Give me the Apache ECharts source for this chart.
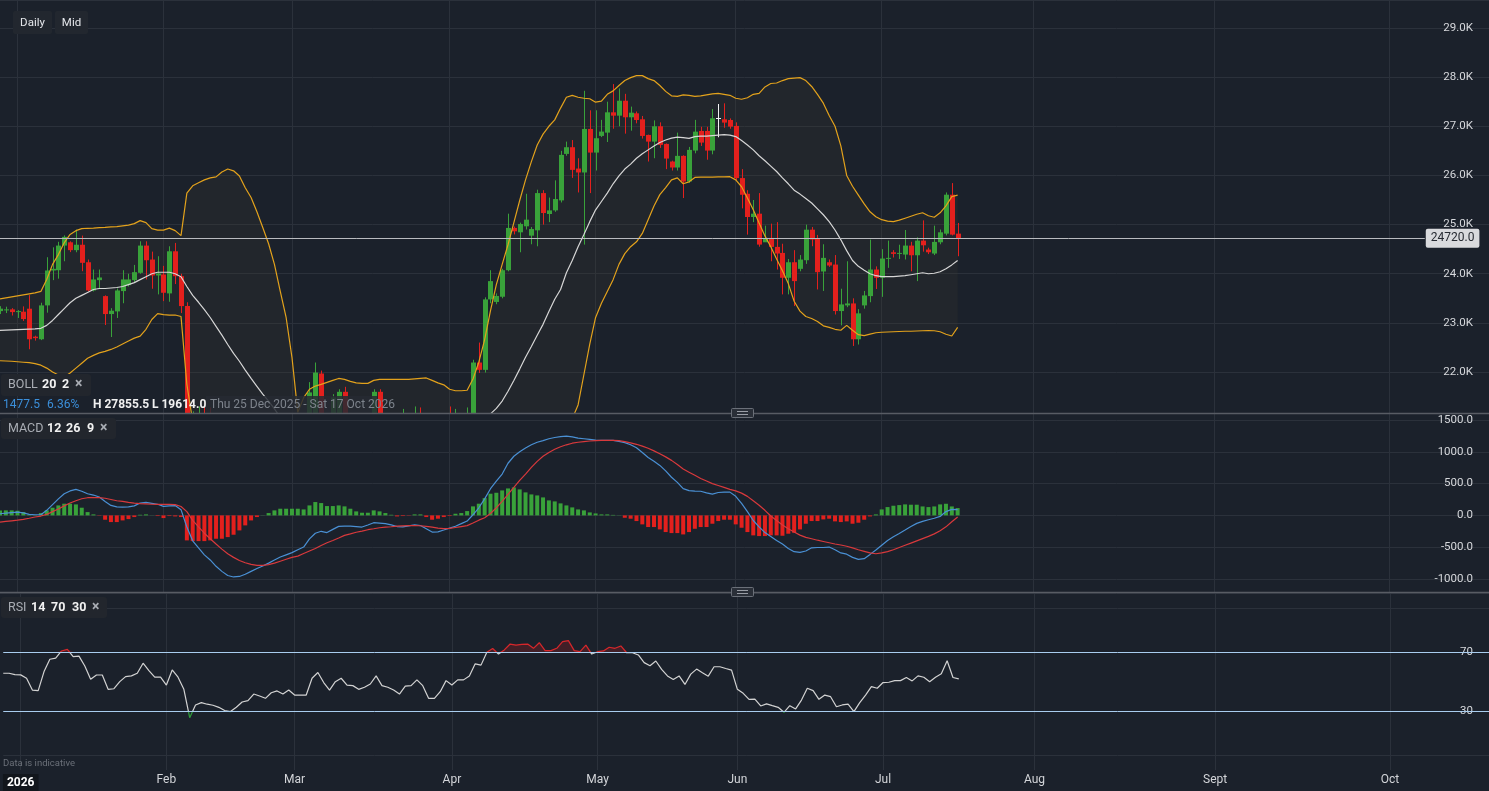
<!DOCTYPE html>
<html>
<head>
<meta charset="utf-8">
<title>Daily chart</title>
<script src="https://cdn.jsdelivr.net/npm/echarts@6.0.0/dist/echarts.min.js"></script>
<style>
  html, body { margin: 0; padding: 0; background: #1b212b; overflow: hidden; }
  #chart { width: 1489px; height: 791px; }
</style>
</head>
<body>
<div id="chart"></div>
<script>
// values, one entry per trading day (index 0 = first visible candle)
const candles = [ // [open, close, low, high]
  [23240,23290,23180,23340],[23255,23275,23200,23330],[23275,23220,23150,23300],[23225,23240,23100,23260],[23228,23078,23040,23336],
  [23289,22667,22464,23565],[22720,22690,22640,22740],[22667,23356,22650,23410],[23356,24066,23208,24336],[24066,24100,23870,24538],
  [24072,24573,23900,24650],[24573,24750,24254,24780],[24640,24480,24440,24660],[24480,24590,24437,24897],[24590,24222,24052,24776],
  [24234,23660,23640,24289],[23660,23884,23640,24086],[23870,23924,23690,24086],[23545,23180,22957,23560],[23180,23248,22713,23300],
  [23234,23660,23100,23700],[23647,23884,23400,24072],[23768,23884,23740,24000],[23870,24032,23820,24180],[24019,24573,24000,24660],
  [24573,24275,23884,24660],[24289,23965,23695,24450],[23965,24005,23580,24356],[23985,23613,23443,24160],[23600,24457,23430,24559],
  [24457,23950,23790,24627],[23950,23342,23200,24000],[23342,20600,20450,23420],[20600,20900,19614,21200],[20900,21000,20600,21300],
  [21000,20950,20700,21320],[20950,20900,20650,21280],[20900,20800,20600,21100],[20800,20600,20450,20950],[20600,20560,20350,20800],
  [20560,20650,20400,20800],[20650,20800,20550,20950],[20800,20850,20650,21000],[20850,21020,20750,21100],[21020,20980,20850,21120],
  [20980,20930,20800,21100],[20930,21050,20850,21130],[21050,21100,20950,21150],[21100,21030,20900,21140],[21030,21120,20950,21150],
  [21120,21020,20900,21150],[21020,21010,20880,21100],[21010,21030,20900,21120],[21030,21586,20980,21795],[21100,21990,21050,22194],
  [21970,21000,20950,22030],[21000,20800,20700,21100],[20850,21484,20800,21550],[21050,21598,21000,21650],[21598,21000,20950,21700],
  [21000,20950,20850,21100],[20950,20850,20750,21050],[20850,20900,20780,21000],[20900,20980,20850,21100],[21000,21598,20950,21650],
  [21598,21050,21000,21650],[21050,21000,20900,21120],[21000,20920,20850,21080],[20920,20820,20750,21000],[20820,21050,20800,21250],
  [21050,21060,20950,21150],[21060,21150,21000,21300],[21150,21050,20980,21280],[21050,20650,20600,21100],[20650,20640,20550,20750],
  [20640,20800,20600,20900],[20800,21050,20750,21120],[21050,20980,20900,21300],[20980,21100,20950,21250],[21100,21110,21000,21150],
  [21110,21150,21050,21280],[21150,22194,21100,22250],[22194,22045,21980,22600],[22045,23478,21990,23520],[23478,23850,23400,24072],
  [23426,23548,23380,23600],[23532,24072,23500,24100],[24072,24932,24050,25222],[24932,24863,24800,24960],[24843,25013,24437,25040],
  [24965,25100,24900,25627],[24775,24910,24600,24950],[24883,25641,24559,25710],[25641,25235,25000,25700],[25215,25289,25050,25550],
  [25289,25520,25260,25900],[25492,26418,25450,26500],[26438,26574,26400,26688],[26574,26113,25950,26720],[26140,26060,25654,26350],
  [26060,26946,24593,27722],[26946,26465,25641,27325],[26465,26757,26100,27325],[26804,26892,26780,27130],[26871,27284,26680,27500],
  [27284,27216,26950,27858],[27216,27520,27000,27771],[27520,27183,26850,27660],[27183,27277,26910,27400],[27264,27128,27060,27300],
  [27142,26804,26750,27210],[26824,26688,26283,26830],[26688,27000,26350,27120],[27000,26621,26560,27080],[26641,26343,26128,26650],
  [26283,26161,26100,26300],[26161,26398,26100,26871],[26398,25877,25540,26410],[25877,26520,25850,26580],[26506,26891,26450,27130],
  [26905,26668,26600,26990],[26905,26506,26320,26990],[26506,27162,26430,27350],[27162,27162,26777,27453],[27142,27075,26970,27467],
  [27128,26993,26950,27160],[27007,25946,25900,27080],[25946,25607,25330,26128],[25627,25154,24796,25700],[25154,25222,25050,25500],
  [25222,24593,24550,25641],[24640,24729,24700,24978],[24729,24546,24254,25019],[24546,24411,24086,25050],[24424,23918,23580,24610],
  [23918,24234,23580,24300],[24234,23850,23342,24480],[24100,24289,24050,24380],[24275,24897,24200,24999],[24897,24695,24560,24950],
  [24721,24032,23681,24790],[24046,24323,23650,24600],[24234,24167,24140,24290],[24187,23241,23170,24380],[23241,23376,22950,23695],
  [23356,23396,23320,24254],[23396,22667,22531,23500],[22667,23194,22560,23280],[23356,23559,23290,23650],[23545,24086,23420,24695],
  [24086,23918,23690,24150],[23918,24309,23530,24500],[24309,24323,24120,24674],[24437,24404,24330,24480],[24411,24424,24300,24590],
  [24390,24573,24290,24890],[24573,24376,24050,24650],[24376,24674,23850,24740],[24674,24579,24450,25086],[24492,24437,24400,24530],
  [24411,24648,24380,24978],[24640,24843,24600,24900],[24816,25608,24780,25654],[25608,24796,24780,25844],[24816,24720,24356,25033]
];

const bollUpper = [
  23490,23510,23530,23550,23570,23590,23610,23640,23884,24190,24390,24630,24800,24877,24917,24925,24930,24940,24945,24955,
  24960,24975,24990,25020,25080,25040,24917,24887,24887,24927,24877,24775,25640,25790,25850,25910,25950,25970,26070,26130,
  26094,25990,25750,25550,25260,24940,24610,24190,23640,23110,22300,21180,21480,21650,21715,21750,21790,21830,21870,21850,
  21810,21780,21770,21770,21830,21850,21850,21850,21850,21850,21850,21860,21870,21880,21830,21780,21740,21650,21620,21620,
  21630,21860,22200,22660,23250,23780,24190,24590,25040,25490,25910,26280,26620,26840,27000,27130,27370,27590,27630,27590,
  27570,27560,27490,27510,27650,27720,27830,27930,27990,28030,28030,27970,27930,27830,27710,27620,27610,27640,27630,27610,
  27620,27640,27660,27670,27650,27630,27570,27550,27580,27650,27670,27800,27870,27880,27930,27970,27980,27990,27930,27810,
  27650,27470,27220,27000,26600,26000,25780,25600,25420,25260,25160,25100,25070,25060,25090,25130,25170,25210,25240,25180,
  25150,25240,25380,25570,25600
];
const bollMid = [
  22849,22855,22860,22865,22870,22875,22880,22890,22950,23050,23170,23290,23410,23500,23560,23620,23680,23700,23700,23710,
  23720,23740,23780,23820,23880,23940,24000,24030,24030,24030,24000,23940,23740,23560,23420,23270,23110,22930,22750,22560,
  22380,22220,22040,21870,21710,21550,21410,21250,21080,21000,20930,20870,20850,20860,20880,20900,20910,20930,20960,20980,
  20990,21000,21010,21010,21020,21030,21030,21040,21040,21040,21050,21060,21060,21040,21020,21010,21010,21000,21000,21010,
  21030,21070,21100,21120,21150,21260,21410,21610,21830,22060,22300,22520,22750,22970,23230,23480,23680,24020,24270,24550,
  24800,25060,25300,25470,25640,25830,25990,26130,26230,26350,26440,26520,26600,26670,26720,26760,26780,26770,26755,26790,
  26800,26800,26810,26820,26830,26820,26790,26710,26620,26520,26400,26300,26190,26080,25950,25830,25700,25620,25530,25440,
  25320,25200,25060,24890,24690,24470,24270,24150,24070,24000,23960,23940,23940,23940,23950,23960,23980,24000,24020,24000,
  24010,24040,24100,24180,24270
];
const bollLower = [
  22230,22225,22220,22210,22200,22190,22170,22140,22080,22000,21940,21900,21980,22080,22180,22280,22340,22390,22420,22460,
  22510,22570,22630,22690,22730,22870,23070,23190,23170,23160,23160,23130,21750,21000,20600,20300,20100,19950,19800,19650,
  19600,19600,19650,19750,19900,20100,20250,20400,20500,20550,20550,20550,20450,20300,20250,20250,20280,20300,20320,20340,
  20360,20380,20400,20400,20380,20370,20360,20380,20400,20420,20450,20450,20450,20400,20350,20320,20300,20330,20350,20370,
  20400,20300,20100,19900,19700,19500,19400,19350,19400,19500,19650,19800,19950,20150,20350,20550,20700,20850,21050,21330,
  21950,22570,23110,23400,23640,23880,24190,24410,24550,24650,24820,25100,25380,25610,25750,25910,25950,25830,25870,25960,
  25965,25965,25965,25970,25970,25975,25910,25770,25540,25300,25030,24770,24550,24300,24060,23800,23440,23240,23130,23090,
  23030,22940,22910,22870,22850,22950,22850,22760,22740,22770,22800,22810,22815,22820,22825,22830,22830,22835,22840,22845,
  22840,22820,22770,22734,22910
];

const macdDif = [
  26,35,45,52,40,15,10,10,80,170,260,340,385,409,380,340,320,290,220,157,
  135,130,135,150,195,204,190,175,141,150,155,90,-183,-400,-510,-620,-700,-800,-880,-945,
  -968,-960,-925,-880,-835,-795,-750,-700,-655,-620,-585,-540,-498,-370,-280,-250,-270,-220,-173,-170,
  -170,-175,-183,-150,-115,-120,-130,-150,-175,-180,-165,-147,-160,-210,-262,-258,-230,-200,-170,-130,
  -89,10,120,260,420,540,650,820,930,1000,1060,1110,1150,1175,1205,1225,1240,1245,1235,1215,
  1205,1195,1185,1179,1180,1180,1165,1145,1110,1064,990,910,850,786,700,600,520,420,390,382,
  380,355,335,360,366,366,300,190,60,-80,-180,-270,-330,-393,-450,-520,-570,-580,-560,-510,
  -505,-505,-498,-540,-590,-610,-660,-692,-680,-613,-545,-470,-395,-335,-283,-230,-175,-125,-95,-68,
  -45,-16,60,94,90
];
const macdDea = [
  -105,-95,-85,-75,-63,-45,-25,-10,15,60,100,150,194,230,262,278,280,278,270,250,
  230,220,205,194,185,180,175,173,172,173,170,140,60,-79,-180,-280,-367,-450,-530,-602,
  -660,-710,-745,-770,-786,-785,-775,-750,-720,-690,-660,-640,-600,-560,-520,-472,-430,-395,-355,-314,
  -290,-265,-246,-225,-210,-194,-185,-178,-170,-165,-162,-162,-163,-172,-185,-200,-209,-205,-190,-175,
  -160,-120,-75,-36,30,120,220,330,440,550,650,755,850,930,990,1040,1080,1110,1135,1150,
  1160,1170,1175,1179,1180,1180,1175,1160,1140,1118,1090,1055,1015,970,920,865,800,730,680,630,
  580,540,500,470,440,410,385,350,299,230,160,80,-10,-79,-150,-210,-262,-310,-345,-367,
  -390,-410,-430,-450,-465,-485,-510,-540,-565,-590,-603,-590,-570,-540,-505,-470,-435,-400,-365,-330,
  -290,-240,-180,-100,-26
];
const macdHist = [
  79,79,79,73,52,10,5,37,79,121,157,184,184,173,121,52,16,-5,-68,-105,
  -105,-79,-58,-26,10,16,2,-10,-42,-10,-16,-26,-393,-404,-404,-404,-393,-367,-367,-341,
  -304,-236,-157,-79,-26,3,37,79,105,105,105,105,94,157,210,194,147,147,157,142,
  105,63,42,42,79,63,37,10,-16,-10,-5,16,16,-26,-68,-52,-26,-10,26,37,
  68,142,184,272,341,356,393,424,440,409,362,330,314,283,236,220,189,157,126,94,
  79,47,31,16,16,8,3,-37,-52,-89,-141,-183,-183,-220,-262,-278,-278,-299,-262,-210,
  -183,-183,-131,-89,-68,-68,-141,-194,-262,-314,-325,-325,-314,-314,-320,-288,-273,-220,-131,-89,
  -89,-63,-52,-94,-105,-94,-131,-115,-68,-16,16,94,131,152,162,173,168,168,141,131,
  141,173,183,141,115
];

const rsiValues = [
  55.6,55.6,54.7,54.5,52.2,44.2,43.8,56.7,65.1,65.8,70.7,71.8,66.8,67.2,60.5,51.5,54.4,54.4,44.7,45.1,
  49.9,53.3,53.8,55.6,62.4,57.4,52.9,52.9,47.6,57.8,52.9,44.7,25.5,34.1,35.7,34.6,33.9,32.5,30.3,29.6,
  32.5,36.1,37.0,41.5,40.2,38.6,42.4,43.6,41.5,44.2,40.8,40.8,40.8,52.2,56.1,49.3,44.2,49.9,52.2,47.6,
  47.2,44.7,46.1,48.3,53.8,47.2,46.1,44.2,41.5,46.9,47.2,51.1,47.2,38.6,38.6,43.1,50.6,47.6,51.1,51.1,
  53.8,62.0,61.1,69.9,72.4,68.6,71.4,75.4,74.7,75.2,75.4,72.5,76.3,70.9,70.9,72.5,77.0,77.7,70.9,70.2,
  74.7,68.6,70.2,70.7,73.2,72.5,74.1,69.5,69.5,68.0,62.8,60.7,63.9,58.2,53.8,51.3,53.8,48.0,55.0,58.4,
  55.9,53.6,60.0,60.0,58.8,57.7,44.7,42.0,37.9,38.1,33.4,34.8,33.6,32.5,29.1,33.6,31.4,37.4,45.4,43.8,
  37.9,40.8,39.7,32.9,34.1,34.6,29.6,35.7,40.8,46.5,45.4,49.3,49.5,50.6,50.6,52.7,50.4,53.8,52.9,49.9,
  52.9,55.2,64.1,52.7,51.8
];

// x axis: trading-day slots, then empty slots running on to mid October
const slotCount = 256;
const monthTickIdx = [3, 28, 50, 77, 102, 126, 151, 177, 208, 238];
const monthLabels = ['2026', 'Feb', 'Mar', 'Apr', 'May', 'Jun', 'Jul', 'Aug', 'Sept', 'Oct'];
const lastPrice = 24720;
const rsiUpper = 70;
const rsiLower = 30;

const FONT = 'Roboto, "Noto Sans", sans-serif';
const BG = '#1b212b';
const GRID = '#2b313b';
const UP = '#39a23a';
const DOWN = '#e3201d';
const DOJI = '#f2f2f2';
const BAND = '#e3a21c';

const categories = [];
for (let i = 0; i < slotCount; i++) categories.push(String(i));
const tickLabel = {};
monthTickIdx.forEach((idx, k) => { tickLabel[idx] = monthLabels[k]; });
const isMonth = (i) => tickLabel[i] !== undefined;

function makeXAxis(gridIndex, withLabels) {
  return {
    type: 'category',
    gridIndex: gridIndex,
    data: categories,
    boundaryGap: false,
    axisLine: { show: false },
    axisTick: { show: false },
    axisLabel: withLabels ? {
      interval: (i) => isMonth(i),
      formatter: (v, i) => (i === monthTickIdx[0] ? '{yr|' + tickLabel[i] + '}' : tickLabel[i]),
      color: '#d3d5d9',
      fontSize: 12,
      fontFamily: FONT,
      margin: 4,
      rich: {
        yr: { color: '#ffffff', fontWeight: 'bold', fontSize: 12, fontFamily: FONT,
              backgroundColor: '#12161c', padding: [3, 4, 2, 4] }
      }
    } : { show: false },
    splitLine: { show: true, interval: (i) => isMonth(i), lineStyle: { color: GRID, width: 1 } }
  };
}

// candle rows for the custom series: [index, open, close, low, high]
const candleRows = candles.map((c, i) => [i, c[0], c[1], c[2], c[3]]);

function renderCandle(params, api) {
  const o = api.value(1), c = api.value(2), l = api.value(3), h = api.value(4);
  const pO = api.coord([api.value(0), o]);
  const pC = api.coord([api.value(0), c]);
  const pL = api.coord([api.value(0), l]);
  const pH = api.coord([api.value(0), h]);
  const color = c > o ? UP : (c < o ? DOWN : DOJI);
  const xm = Math.round(pO[0]) + 0.5;
  const top = Math.min(pO[1], pC[1]);
  const bot = Math.max(pO[1], pC[1]);
  const children = [
    { type: 'line', shape: { x1: xm, y1: pH[1], x2: xm, y2: pL[1] }, style: { stroke: color, lineWidth: 1 } }
  ];
  if (c === o) {
    children.push({ type: 'line', shape: { x1: xm - 2.5, y1: Math.round(top) + 0.5, x2: xm + 2.5, y2: Math.round(top) + 0.5 },
                    style: { stroke: color, lineWidth: 1 } });
  } else {
    children.push({ type: 'rect', shape: { x: xm - 2.5, y: top, width: 5, height: Math.max(bot - top, 1) },
                    style: { fill: color } });
  }
  return { type: 'group', children: children };
}

const bandWidth = bollUpper.map((u, i) => u - bollLower[i]);
const rsiBase = rsiValues.map(() => rsiUpper);
const rsiOver = rsiValues.map((v) => Math.max(v - rsiUpper, 0));

function txt(x, y, text, fill, size, weight, align) {
  return {
    type: 'text', x: x, y: y, silent: true, z: 100,
    style: { text: text, fill: fill, font: (weight || 'normal') + ' ' + size + 'px ' + FONT,
             align: align || 'left', verticalAlign: 'middle' }
  };
}
function box(x, y, w, h, fill, r) {
  return { type: 'rect', silent: true, z: 99, shape: { x: x, y: y, width: w, height: h, r: r || 0 }, style: { fill: fill } };
}
function handle(cy) {
  return [
    { type: 'rect', silent: true, z: 101, shape: { x: 731.5, y: cy - 4.5, width: 22, height: 9, r: 1 },
      style: { fill: '#2a2f38', stroke: '#6b7079', lineWidth: 1 } },
    { type: 'line', silent: true, z: 102, shape: { x1: 737, y1: cy - 1.5, x2: 748, y2: cy - 1.5 }, style: { stroke: '#9a9ea6', lineWidth: 1 } },
    { type: 'line', silent: true, z: 102, shape: { x1: 737, y1: cy + 1.5, x2: 748, y2: cy + 1.5 }, style: { stroke: '#9a9ea6', lineWidth: 1 } }
  ];
}

const graphics = [
  // separators between panes
  { type: 'line', silent: true, z: 100, shape: { x1: 0, y1: 413.5, x2: 1489, y2: 413.5 }, style: { stroke: '#585c64', lineWidth: 1.5 } },
  { type: 'line', silent: true, z: 100, shape: { x1: 0, y1: 592.5, x2: 1489, y2: 592.5 }, style: { stroke: '#585c64', lineWidth: 1.5 } },
  ...handle(413),
  ...handle(592),
  // timeframe buttons
  box(13, 11, 39, 23, '#22272f', 2), txt(32.5, 23, 'Daily', '#e4e6ea', 11.5, 'normal', 'center'),
  box(55, 11, 33, 23, '#22272f', 2), txt(71.5, 23, 'Mid', '#e4e6ea', 11.5, 'normal', 'center'),
  // indicator tags
  box(1, 374, 90, 22, '#22262d', 3),
  txt(8, 385, 'BOLL', '#a9adb4', 12.5), txt(42, 385, '20', '#f2f2f2', 12.5, 'bold'), txt(62, 385, '2', '#f2f2f2', 12.5, 'bold'),
  txt(75, 384, '×', '#a9adb4', 14, 'bold'),
  box(1, 418, 115, 21, '#22262d', 3),
  txt(8, 429, 'MACD', '#a9adb4', 12.5), txt(47, 429, '12', '#f2f2f2', 12.5, 'bold'), txt(66, 429, '26', '#f2f2f2', 12.5, 'bold'),
  txt(87, 429, '9', '#f2f2f2', 12.5, 'bold'), txt(100, 428, '×', '#a9adb4', 14, 'bold'),
  box(1, 597, 106, 21, '#22262d', 3),
  txt(8, 608, 'RSI', '#a9adb4', 12.5), txt(31, 608, '14', '#f2f2f2', 12.5, 'bold'), txt(51, 608, '70', '#f2f2f2', 12.5, 'bold'),
  txt(72, 608, '30', '#f2f2f2', 12.5, 'bold'), txt(92, 607, '×', '#a9adb4', 14, 'bold'),
  // info row
  txt(3, 404.5, '1477.5', '#3b8fda', 12), txt(47, 404.5, '6.36%', '#3b8fda', 12),
  txt(93, 404.5, 'H 27855.5', '#f0f0f0', 12, 'bold'), txt(152, 404.5, 'L 19614.0', '#f0f0f0', 12, 'bold'),
  box(206, 396, 171, 17, 'rgba(38,42,50,0.85)', 0),
  txt(210, 404.5, 'Thu 25 Dec 2025 - Sat 17 Oct 2026', '#7d838c', 12),
  txt(3, 764, 'Data is indicative', '#6b7079', 9.5)
];

const option = {
  backgroundColor: BG,
  animation: false,
  textStyle: { fontFamily: FONT },
  grid: [
    { left: 0, width: 1493, top: 0, height: 413 },
    { left: 0, width: 1493, top: 413, height: 180 },
    { left: 0, width: 1493, top: 593, height: 177 }
  ],
  xAxis: [makeXAxis(0, false), makeXAxis(1, false), makeXAxis(2, true)],
  yAxis: [
    {
      type: 'value', gridIndex: 0, position: 'right', min: 21167, max: 29569,
      minInterval: 1000, maxInterval: 1000, splitNumber: 8,
      axisLine: { show: false }, axisTick: { show: false },
      axisLabel: { inside: true, margin: 16, color: '#d6d8dc', fontSize: 11.5, fontFamily: FONT,
                   showMinLabel: false, showMaxLabel: false,
                   formatter: (v) => (v / 1000).toFixed(1) + 'K' },
      splitLine: { lineStyle: { color: GRID, width: 1 } }
    },
    {
      type: 'value', gridIndex: 1, position: 'right', min: -1220, max: 1610,
      minInterval: 500, maxInterval: 500, splitNumber: 5,
      axisLine: { show: false }, axisTick: { show: false },
      axisLabel: { inside: true, margin: 16, color: '#d6d8dc', fontSize: 11.5, fontFamily: FONT,
                   showMinLabel: false, showMaxLabel: false,
                   formatter: (v) => v.toFixed(1) },
      splitLine: { lineStyle: { color: GRID, width: 1 } }
    },
    {
      type: 'value', gridIndex: 2, position: 'right', min: -10, max: 110, interval: 10,
      axisLine: { show: false }, axisTick: { show: false },
      axisLabel: { inside: true, margin: 16, color: '#d6d8dc', fontSize: 11.5, fontFamily: FONT,
                   formatter: (v) => (v === rsiUpper || v === rsiLower ? String(v) : '') },
      splitLine: { show: false }
    }
  ],
  visualMap: [{
    type: 'piecewise', show: false, seriesIndex: 11, dimension: 1,
    pieces: [
      { gt: rsiUpper, color: '#d8262a' },
      { lt: rsiLower, color: '#2f9e3a' },
      { gte: rsiLower, lte: rsiUpper, color: '#d2d2d2' }
    ]
  }],
  series: [
    { name: 'bandBase', type: 'line', xAxisIndex: 0, yAxisIndex: 0, data: bollLower, stack: 'boll',
      symbol: 'none', silent: true, lineStyle: { opacity: 0 }, z: 1 },
    { name: 'bandFill', type: 'line', xAxisIndex: 0, yAxisIndex: 0, data: bandWidth, stack: 'boll',
      symbol: 'none', silent: true, lineStyle: { opacity: 0 }, areaStyle: { color: 'rgba(62,57,48,0.32)' }, z: 1 },
    {
      name: 'price', type: 'custom', xAxisIndex: 0, yAxisIndex: 0, data: candleRows, clip: true, silent: true, z: 3,
      encode: { x: 0, y: [1, 2, 3, 4] },
      renderItem: renderCandle
    },
    { name: 'upper', type: 'line', xAxisIndex: 0, yAxisIndex: 0, data: bollUpper, symbol: 'none', silent: true,
      lineStyle: { color: BAND, width: 1.2 }, z: 4,
      markLine: {
        silent: true, symbol: ['none', 'none'],
        lineStyle: { color: '#b9bbbf', width: 1, type: 'solid' },
        label: { show: true, position: 'end', distance: 1, formatter: lastPrice.toFixed(1),
                 color: '#262a31', backgroundColor: '#d9dadd', padding: [4, 5, 3, 5], borderRadius: 2,
                 fontSize: 12, fontFamily: FONT },
        data: [[{ coord: [0, lastPrice] }, { coord: [244, lastPrice] }]]
      }
    },
    { name: 'lower', type: 'line', xAxisIndex: 0, yAxisIndex: 0, data: bollLower, symbol: 'none', silent: true,
      lineStyle: { color: BAND, width: 1.2 }, z: 4 },
    { name: 'mid', type: 'line', xAxisIndex: 0, yAxisIndex: 0, data: bollMid, symbol: 'none', silent: true,
      lineStyle: { color: '#d6d6d6', width: 1.2 }, z: 4 },
    { name: 'hist', type: 'bar', xAxisIndex: 1, yAxisIndex: 1, barWidth: 4, silent: true, z: 2,
      data: macdHist.map((v) => ({ value: v, itemStyle: { color: v >= 0 ? UP : DOWN } })) },
    { name: 'dif', type: 'line', xAxisIndex: 1, yAxisIndex: 1, data: macdDif, symbol: 'none', silent: true,
      lineStyle: { color: '#4a90d4', width: 1.2 }, z: 3 },
    { name: 'dea', type: 'line', xAxisIndex: 1, yAxisIndex: 1, data: macdDea, symbol: 'none', silent: true,
      lineStyle: { color: '#d8393c', width: 1.2 }, z: 3 },
    { name: 'rsiBase', type: 'line', xAxisIndex: 2, yAxisIndex: 2, data: rsiBase, stack: 'rsi', symbol: 'none',
      silent: true, lineStyle: { opacity: 0 }, z: 1 },
    { name: 'rsiOver', type: 'line', xAxisIndex: 2, yAxisIndex: 2, data: rsiOver, stack: 'rsi', symbol: 'none',
      silent: true, lineStyle: { opacity: 0 }, areaStyle: { color: 'rgba(150,28,32,0.45)' }, z: 1 },
    {
      name: 'rsi', type: 'line', xAxisIndex: 2, yAxisIndex: 2, data: rsiValues, symbol: 'none', silent: true,
      lineStyle: { width: 1.2 }, z: 3,
      markLine: {
        silent: true, symbol: ['none', 'none'], label: { show: false },
        data: [
          { yAxis: rsiUpper, lineStyle: { color: '#a9cdef', width: 1, type: 'solid' } },
          { yAxis: rsiLower, lineStyle: { color: '#a9cdef', width: 1, type: 'solid' } },
          { yAxis: 100, lineStyle: { color: GRID, width: 1, type: 'solid' } },
          { yAxis: 0, lineStyle: { color: GRID, width: 1, type: 'solid' } }
        ]
      }
    }
  ],
  graphic: { elements: graphics }
};

const chart = echarts.init(document.getElementById('chart'));
chart.setOption(option);
</script>
</body>
</html>
